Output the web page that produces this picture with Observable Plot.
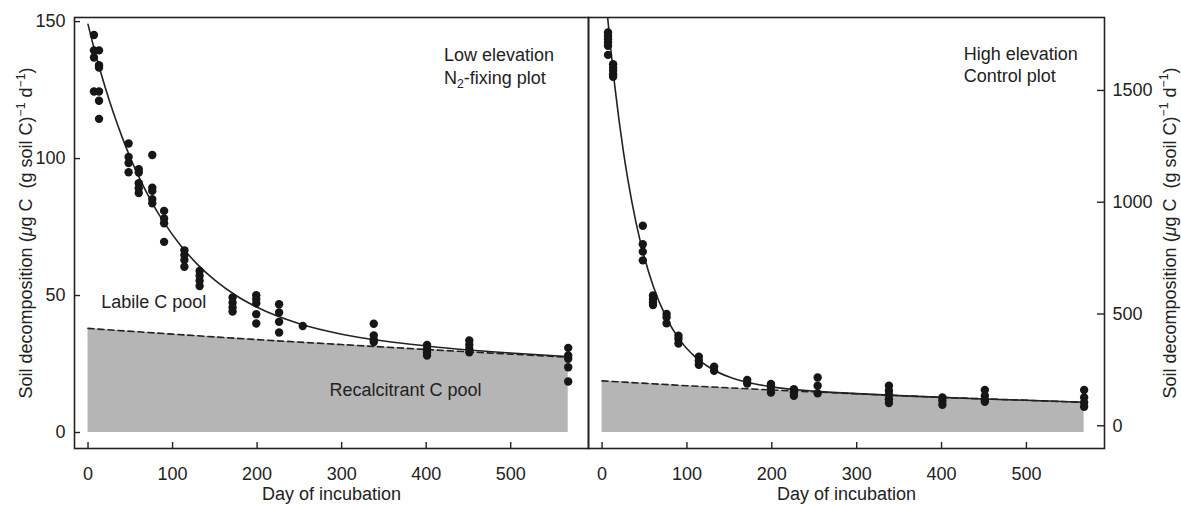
<!DOCTYPE html>
<html><head><meta charset="utf-8">
<script src="https://cdn.jsdelivr.net/npm/d3@7"></script>
<script src="https://cdn.jsdelivr.net/npm/@observablehq/plot@0.6"></script>
<style>
html,body{margin:0;padding:0;background:#fff;}
#chart{position:relative;width:1181px;height:506px;overflow:hidden;background:#fff;}
#chart svg{position:absolute;top:0;background:transparent;}
#chart svg text{white-space:pre;}
</style></head><body><div id="chart"></div>
<script>
// ---- tick labels ----
const dayTicks = [0, 100, 200, 300, 400, 500];
const lowYTicks = [0, 50, 100, 150];
const highYTicks = [0, 500, 1000, 1500];

// ---- texts ----
const xLabel = "Day of incubation";
const yLabel = "Soil decomposition (μg C  (g soil C)⁻¹ d⁻¹)";
const lowNote = "Low elevation\nN₂-fixing plot";
const highNote = "High elevation\nControl plot";
const labileLabel = "Labile C pool";
const recalcLabel = "Recalcitrant C pool";

// ---- observations (day of incubation, replicate values) ----
const obsDays = [7, 13, 48, 60, 76, 90, 114, 132, 171, 199, 226, 254, 338, 401, 451, 568];
const lowValues = [
  [145.1, 139.5, 136.9, 124.5],
  [139.5, 134.1, 133.2, 124.5, 121.1, 114.5],
  [105.5, 100.6, 98.4, 95.0],
  [96.1, 94.9, 91.0, 89.2, 87.4],
  [101.3, 89.4, 88.2, 85.2, 83.7],
  [80.9, 78.1, 76.4, 69.6],
  [66.5, 64.8, 63.0, 60.5],
  [59.0, 57.2, 55.4, 53.5],
  [49.3, 47.4, 45.6, 44.2],
  [50.1, 48.7, 47.2, 43.2, 39.8],
  [46.8, 43.8, 40.4, 36.5],
  [38.9],
  [39.7, 35.4, 33.8, 33.0],
  [32.0, 30.5, 29.3, 28.1],
  [33.6, 32.0, 30.5, 29.3],
  [30.9, 28.1, 26.9, 23.8, 18.6]
];
const highValues = [
  [1759, 1744, 1729, 1714, 1700, 1659],
  [1617, 1602, 1588, 1572, 1561],
  [895, 812, 779, 740],
  [583, 567, 552, 540],
  [500, 485, 458],
  [403, 388, 368],
  [309, 291, 273],
  [264, 246],
  [205, 189],
  [187, 172, 149],
  [164, 149, 134],
  [216, 179, 145],
  [179, 157, 139, 119, 102],
  [127, 112, 94],
  [160, 134, 116, 107],
  [160, 127, 104, 85]
];

// ---- fitted curves ----
const fitDays = [0, 5, 10, 15, 20, 25, 30, 40, 50, 60, 75, 90, 110, 130, 150, 175, 200, 250, 300, 350, 400, 450, 500, 568];
const lowFit = [149.0, 142.8, 137.0, 131.5, 126.3, 121.4, 116.7, 108.1, 100.3, 93.4, 84.3, 76.6, 68.1, 61.2, 55.6, 50.0, 45.7, 39.7, 35.9, 33.4, 31.6, 30.1, 29.0, 27.7];
const highFit = [2108, 1887, 1692, 1519, 1366, 1230, 1110, 909, 752, 628, 489, 392, 307, 253, 218, 191, 174, 155, 144, 135, 127, 120, 114, 105];

// ---- recalcitrant pool (dashed line / shaded area) ----
const recalcDays = [0, 100, 200, 300, 400, 500, 568];
const lowRecalc = [38.0, 35.9, 33.9, 32.1, 30.3, 28.6, 27.5];
const highRecalc = [201, 179, 160, 143, 127, 114, 105];
const lowShadeBase = 0;
const highShadeBase = -30;

// ---- layout ----
const H = 506, MT = 17, MB = 58;
const ink = "#222";
const font = "'Liberation Sans', Arial, Helvetica, sans-serif";

function richify(svg, fs) {
  const NS = "http://www.w3.org/2000/svg";
  svg.querySelectorAll("text, tspan").forEach(el => {
    if (el.children.length) return;
    const s = el.textContent;
    if (!/(⁻¹|₂|μ)/.test(s)) return;
    const size = parseFloat(el.closest("[font-size]")?.getAttribute("font-size")) || fs;
    const parts = s.split(/(⁻¹|₂|μ)/).filter(p => p);
    el.textContent = "";
    let shift = 0;
    for (const p of parts) {
      const t = document.createElementNS(NS, "tspan");
      let target = 0;
      if (p === "⁻¹") { t.textContent = "−1"; t.setAttribute("font-size", size * 0.68); target = -size * 0.42; }
      else if (p === "₂") { t.textContent = "2"; t.setAttribute("font-size", size * 0.68); target = size * 0.25; }
      else if (p === "μ") { t.textContent = "μ"; t.setAttribute("font-style", "italic"); }
      else t.textContent = p;
      const d = target - shift;
      if (d) t.setAttribute("dy", d);
      shift = target;
      el.appendChild(t);
    }
  });
}

function panel(cfg) {
  const plotW = cfg.width - cfg.marginLeft - cfg.marginRight;
  const plotH = H - MT - MB;
  const obs = obsDays.flatMap((d, i) => cfg.values[i].map(v => ({day: d, value: v})));
  const fit = fitDays.map((d, i) => ({day: d, value: cfg.fit[i]}));
  const rec = recalcDays.map((d, i) => ({day: d, value: cfg.recalc[i]}));
  const left = cfg.side === "left";
  const svg = Plot.plot({
    width: cfg.width, height: H,
    marginLeft: cfg.marginLeft, marginRight: cfg.marginRight, marginTop: MT, marginBottom: MB,
    style: {fontFamily: font, fontSize: "18px", color: ink, background: "transparent", overflow: "visible"},
    x: {domain: [-16, 592]},
    y: {domain: cfg.yDomain},
    marks: [
      Plot.areaY(rec, {x: "day", y1: cfg.base, y2: "value", fill: "#b5b5b5"}),
      Plot.line(rec, {x: "day", y: "value", stroke: ink, strokeWidth: 1.6, strokeDasharray: "6,4"}),
      Plot.line(fit, {x: "day", y: "value", stroke: ink, strokeWidth: 1.6, curve: "monotone-x", clip: true}),
      Plot.dot(obs, {x: "day", y: "value", r: 4.2, fill: "#161616", stroke: "none"}),
      Plot.frame({stroke: ink, strokeWidth: 1.6}),
      Plot.tickX(dayTicks, {x: d => d, insetTop: plotH - 6, stroke: ink, strokeWidth: 1.4}),
      left
        ? Plot.tickY(cfg.yTicks, {y: d => d, insetRight: plotW - 6, stroke: ink, strokeWidth: 1.4})
        : Plot.tickY(cfg.yTicks, {y: d => d, insetLeft: plotW - 7, stroke: ink, strokeWidth: 1.4}),
      Plot.axisX(dayTicks, {anchor: "bottom", tickSize: 0, tickPadding: 18.5, label: null, fontSize: 18, fill: ink, tickFormat: d => String(d)}),
      Plot.axisY(cfg.yTicks, {anchor: cfg.side, tickSize: 0, tickPadding: left ? 9 : 8, label: null, fontSize: 18, fill: ink, tickFormat: d => String(d)}),
      Plot.text([xLabel], {text: d => d, frameAnchor: "bottom", dy: 46, lineAnchor: "middle", textAnchor: "middle", fontSize: 18, fill: ink}),
      Plot.text([yLabel], {text: d => d, frameAnchor: cfg.side, rotate: -90, dx: cfg.yLabelDx, lineAnchor: "middle", textAnchor: "middle", fontSize: 18, fill: ink}),
      Plot.text([cfg.note], {text: d => d, x: cfg.noteX, y: cfg.noteY, textAnchor: "start", lineAnchor: "top", lineHeight: 1.25, fontSize: 18, fill: ink}),
      ...(cfg.extra || [])
    ]
  });
  return svg;
}

const chart = document.getElementById("chart");

const leftSvg = panel({
  side: "left", width: 590, marginLeft: 74, marginRight: 2,
  yDomain: [-5.84, 151.5], yTicks: lowYTicks,
  values: lowValues, fit: lowFit, recalc: lowRecalc, base: lowShadeBase,
  yLabelDx: -48, note: lowNote, noteX: 421, noteY: 141.3,
  extra: [
    Plot.text([labileLabel], {text: d => d, x: 15.6, y: 47.5, textAnchor: "start", lineAnchor: "middle", fontSize: 18, fill: ink}),
    Plot.text([recalcLabel], {text: d => d, x: 285.7, y: 15.4, textAnchor: "start", lineAnchor: "middle", fontSize: 18, fill: ink})
  ]
});
leftSvg.style.left = "0px";
chart.appendChild(leftSvg);

const rightSvg = panel({
  side: "right", width: 595, marginLeft: 2, marginRight: 77,
  yDomain: [-101.6, 1826.3], yTicks: highYTicks,
  values: highValues, fit: highFit, recalc: highRecalc, base: highShadeBase,
  yLabelDx: 65.5, note: highNote, noteX: 426.2, noteY: 1708.6
});
rightSvg.style.left = "586px";
chart.appendChild(rightSvg);

richify(leftSvg, 18);
richify(rightSvg, 18);
</script>
</body></html>
